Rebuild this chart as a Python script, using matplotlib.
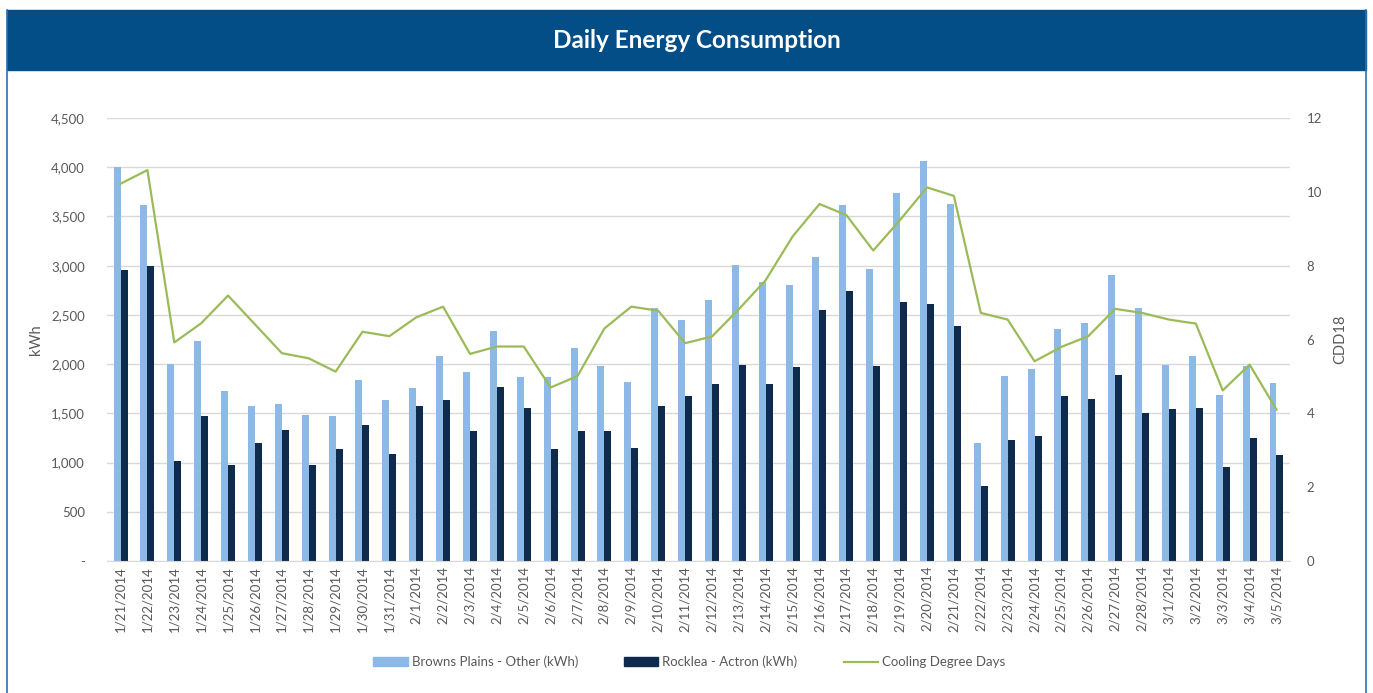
import numpy as np
import matplotlib.pyplot as plt
from matplotlib.patches import Rectangle, Patch
from matplotlib.lines import Line2D
from matplotlib.ticker import FuncFormatter

plt.rcParams["font.family"] = ["Lato", "DejaVu Sans"]

dates = ["1/21/2014", "1/22/2014", "1/23/2014", "1/24/2014", "1/25/2014", "1/26/2014",
         "1/27/2014", "1/28/2014", "1/29/2014", "1/30/2014", "1/31/2014", "2/1/2014",
         "2/2/2014", "2/3/2014", "2/4/2014", "2/5/2014", "2/6/2014", "2/7/2014",
         "2/8/2014", "2/9/2014", "2/10/2014", "2/11/2014", "2/12/2014", "2/13/2014",
         "2/14/2014", "2/15/2014", "2/16/2014", "2/17/2014", "2/18/2014", "2/19/2014",
         "2/20/2014", "2/21/2014", "2/22/2014", "2/23/2014", "2/24/2014", "2/25/2014",
         "2/26/2014", "2/27/2014", "2/28/2014", "3/1/2014", "3/2/2014", "3/3/2014",
         "3/4/2014", "3/5/2014"]

browns_plains = [4000, 3615, 2000, 2233, 1731, 1578, 1595, 1486, 1469, 1843, 1632, 1758,
                 2085, 1917, 2335, 1866, 1866, 2165, 1978, 1815, 2565, 2447, 2647, 3003,
                 2833, 2800, 3091, 3614, 2969, 3740, 4065, 3624, 1198, 1883, 1951, 2358,
                 2413, 2905, 2565, 1995, 2087, 1683, 1978, 1809]

rocklea = [2960, 2993, 1011, 1476, 977, 1198, 1334, 970, 1140, 1384, 1089, 1578,
           1639, 1317, 1765, 1554, 1137, 1323, 1323, 1147, 1571, 1680, 1798, 1995,
           1798, 1971, 2548, 2742, 1982, 2633, 2606, 2385, 763, 1232, 1266, 1673,
           1649, 1893, 1503, 1547, 1554, 950, 1249, 1072]

cdd = [10.22, 10.59, 5.92, 6.44, 7.19, 6.41, 5.63, 5.49, 5.13, 6.21, 6.09, 6.6,
       6.89, 5.61, 5.81, 5.81, 4.70, 5.01, 6.3, 6.89, 6.78, 5.9, 6.08, 6.82,
       7.61, 8.79, 9.67, 9.37, 8.41, 9.24, 10.12, 9.89, 6.72, 6.54, 5.41, 5.8,
       6.09, 6.83, 6.72, 6.54, 6.43, 4.62, 5.32, 4.1]

light_blue = "#8db9e6"
navy = "#0e2a4c"
green = "#9bbb59"
banner = "#034e87"
grey_text = "#595959"

fig = plt.figure(figsize=(13.73, 6.93), dpi=100)
ax = fig.add_axes([0.078, 0.1905, 0.8615, 0.6392])
x = np.arange(len(dates))
w = 0.26
ax.bar(x - w / 2, browns_plains, width=w, color=light_blue, zorder=2)
ax.bar(x + w / 2, rocklea, width=w, color=navy, zorder=2)
ax.set_xlim(-0.5, len(dates) - 0.5)
ax.set_ylim(0, 4500)
ax.set_yticks(np.arange(0, 4501, 500))
ax.yaxis.set_major_formatter(FuncFormatter(lambda v, p: "-" if v == 0 else f"{int(v):,}"))
ax.grid(axis="y", color="#d9d9d9", linewidth=1, zorder=0)
ax.set_xticks(x)
ax.set_xticklabels(dates, rotation=90, fontsize=9.5, color=grey_text)
ax.tick_params(axis="both", length=0, colors=grey_text, labelsize=9.5)
ax.tick_params(axis="y", pad=16)
ax.set_ylabel("kWh", color=grey_text, fontsize=10.5, labelpad=6)
for s in ["top", "right", "left"]:
    ax.spines[s].set_visible(False)
ax.spines["bottom"].set_color("#d9d9d9")

ax2 = ax.twinx()
ax2.plot(x, cdd, color=green, linewidth=1.6, zorder=3)
ax2.set_ylim(0, 12)
ax2.set_yticks(np.arange(0, 13, 2))
ax2.tick_params(axis="y", length=0, colors=grey_text, labelsize=9.5, pad=12)
ax2.set_ylabel("CDD18", color=grey_text, fontsize=10.5, labelpad=8)
for s in ax2.spines.values():
    s.set_visible(False)

# title banner and frame
fig.patches.append(Rectangle((7 / 1373, 1 - 70 / 693), 1359 / 1373, 60 / 693,
                             transform=fig.transFigure, color=banner, zorder=0))
fig.lines.append(Line2D([7 / 1373, 7 / 1373], [0, 1 - 10 / 693], transform=fig.transFigure,
                        color="#2e6fb0", linewidth=1.2))
fig.lines.append(Line2D([1366 / 1373, 1366 / 1373], [0, 1 - 10 / 693], transform=fig.transFigure,
                        color="#2e6fb0", linewidth=1.2))
fig.text(0.5075, 1 - 41 / 693, "Daily Energy Consumption", color="white", fontsize=17.5,
         fontweight="bold", ha="center", va="center")

handles = [Patch(color=light_blue), Patch(color=navy), Line2D([], [], color=green, linewidth=1.6)]
labels = ["Browns Plains - Other (kWh)", "Rocklea - Actron (kWh)", "Cooling Degree Days"]
fig.legend(handles, labels, loc="center", bbox_to_anchor=(0.502, 1 - 662 / 693), ncol=3,
           frameon=False, fontsize=9.5, labelcolor=grey_text, handlelength=2.6,
           handleheight=0.6, columnspacing=3.5, handletextpad=0.3)

fig.savefig("out.png", dpi=100)
plt.close(fig)
